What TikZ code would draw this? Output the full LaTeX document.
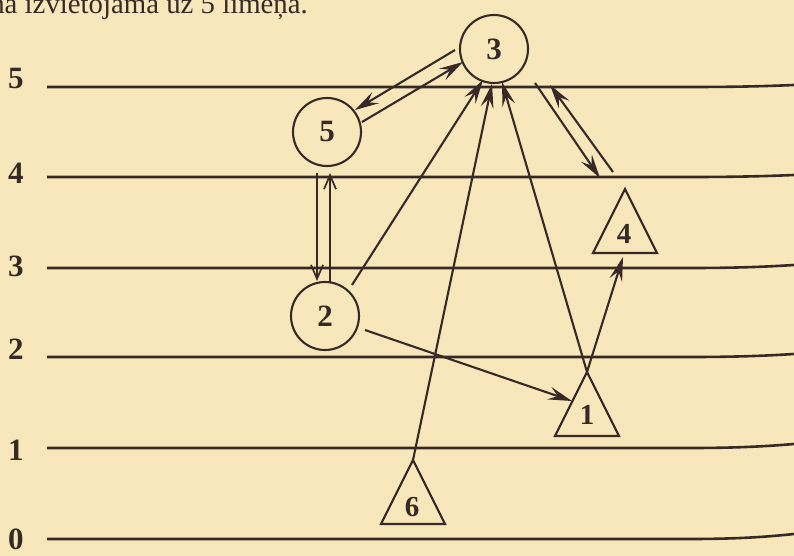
\documentclass[tikz,border=0pt]{standalone}
\usepackage{fontspec}
\setmainfont{Liberation Serif}
\usetikzlibrary{arrows.meta,shapes.geometric}
\definecolor{paper}{RGB}{247,231,186}
\definecolor{ink}{RGB}{55,42,38}
\begin{document}
\begin{tikzpicture}[x=1pt,y=-1pt,
  every node/.style={text=ink},
  lvl/.style={line width=2.6pt, draw=ink},
  lvllabel/.style={font=\fontsize{31}{32}\selectfont\bfseries, inner sep=0pt},
  circ/.style={circle, draw=ink, line width=2.1pt, minimum size=68pt, inner sep=0pt, outer sep=0pt, font=\fontsize{31}{32}\selectfont\bfseries},
  tri/.style={isosceles triangle, isosceles triangle stretches, shape border rotate=90, draw=ink, line width=2.1pt, minimum width=64pt, minimum height=64pt, inner sep=0pt, outer sep=0pt, anchor=apex},
  trilabel/.style={font=\fontsize{29}{30}\selectfont\bfseries, inner sep=0pt},
  arr/.style={draw=ink, line width=2.1pt, -{Stealth[length=24pt,width=13pt,inset=9pt]}},
  varr/.style={draw=ink, line width=1.7pt, -{Straight Barb[length=14pt,width=12pt]}}
]
\useasboundingbox (0,0) rectangle (794,556);
\fill[paper] (0,0) rectangle (794,556);
\clip (0,0) rectangle (794,556);

\node[anchor=base east, font=\fontsize{28.8}{30}\selectfont, inner sep=0pt] (top) at (308,14) {ņa izvietojama uz 5 līmeņa.};

% level lines
\foreach \y/\r in {87/2,177/2,268/3,357/3,448/4,539/5} {
  \draw[lvl] (47,\y) -- (690,\y) .. controls (740,\y) and (770,\y-\r/2) .. (794,\y-\r);
}
\node[lvllabel] (L5) at (16,79) {5};
\node[lvllabel] (L4) at (16,173) {4};
\node[lvllabel] (L3) at (16,266) {3};
\node[lvllabel] (L2) at (16,349) {2};
\node[lvllabel] (L1) at (16,450) {1};
\node[lvllabel] (L0) at (16,539) {0};

% nodes
\node[circ] (c3) at (494,49) {3};
\node[circ] (c5) at (327,132) {5};
\node[circ] (c2) at (325,316) {2};
\node[tri] (t4) at (625,189) {};
\node[tri] (t1) at (587,372) {};
\node[tri] (t6) at (413,460) {};
\node[trilabel] (l4) at (624,234) {4};
\node[trilabel] (l1) at (587,415) {1};
\node[trilabel] (l6) at (412,507) {6};

% connectors
\draw[arr] ([shift={(-39,1)}]c3.center) -- ([shift={(28,-22)}]c5.center);
\draw[arr] ([shift={(35,-10)}]c5.center) -- ([shift={(-31,13)}]c3.center);
\draw[varr] ([shift={(-10,41)}]c5.center) -- ([shift={(-8,-35)}]c2.center);
\draw[varr] ([shift={(5,-34)}]c2.center) -- ([shift={(3,41)}]c5.center);
\draw[arr] ([shift={(27,-31)}]c2.center) -- ([shift={(-11,31)}]c3.center);
\draw[arr] (t6.apex) -- ([shift={(-2,35)}]c3.center);
\draw[arr] (t1.apex) -- ([shift={(8,33)}]c3.center);
\draw[arr] (t1.apex) -- ([shift={(-2,68)}]t4.apex);
\draw[arr] ([shift={(41,34)}]c3.center) -- ([shift={(-25,-11)}]t4.apex);
\draw[arr] ([shift={(-12,-17)}]t4.apex) -- ([shift={(56,36)}]c3.center);
\draw[arr] ([shift={(40,14)}]c2.center) -- ([shift={(-15,29)}]t1.apex);
\end{tikzpicture}
\end{document}
